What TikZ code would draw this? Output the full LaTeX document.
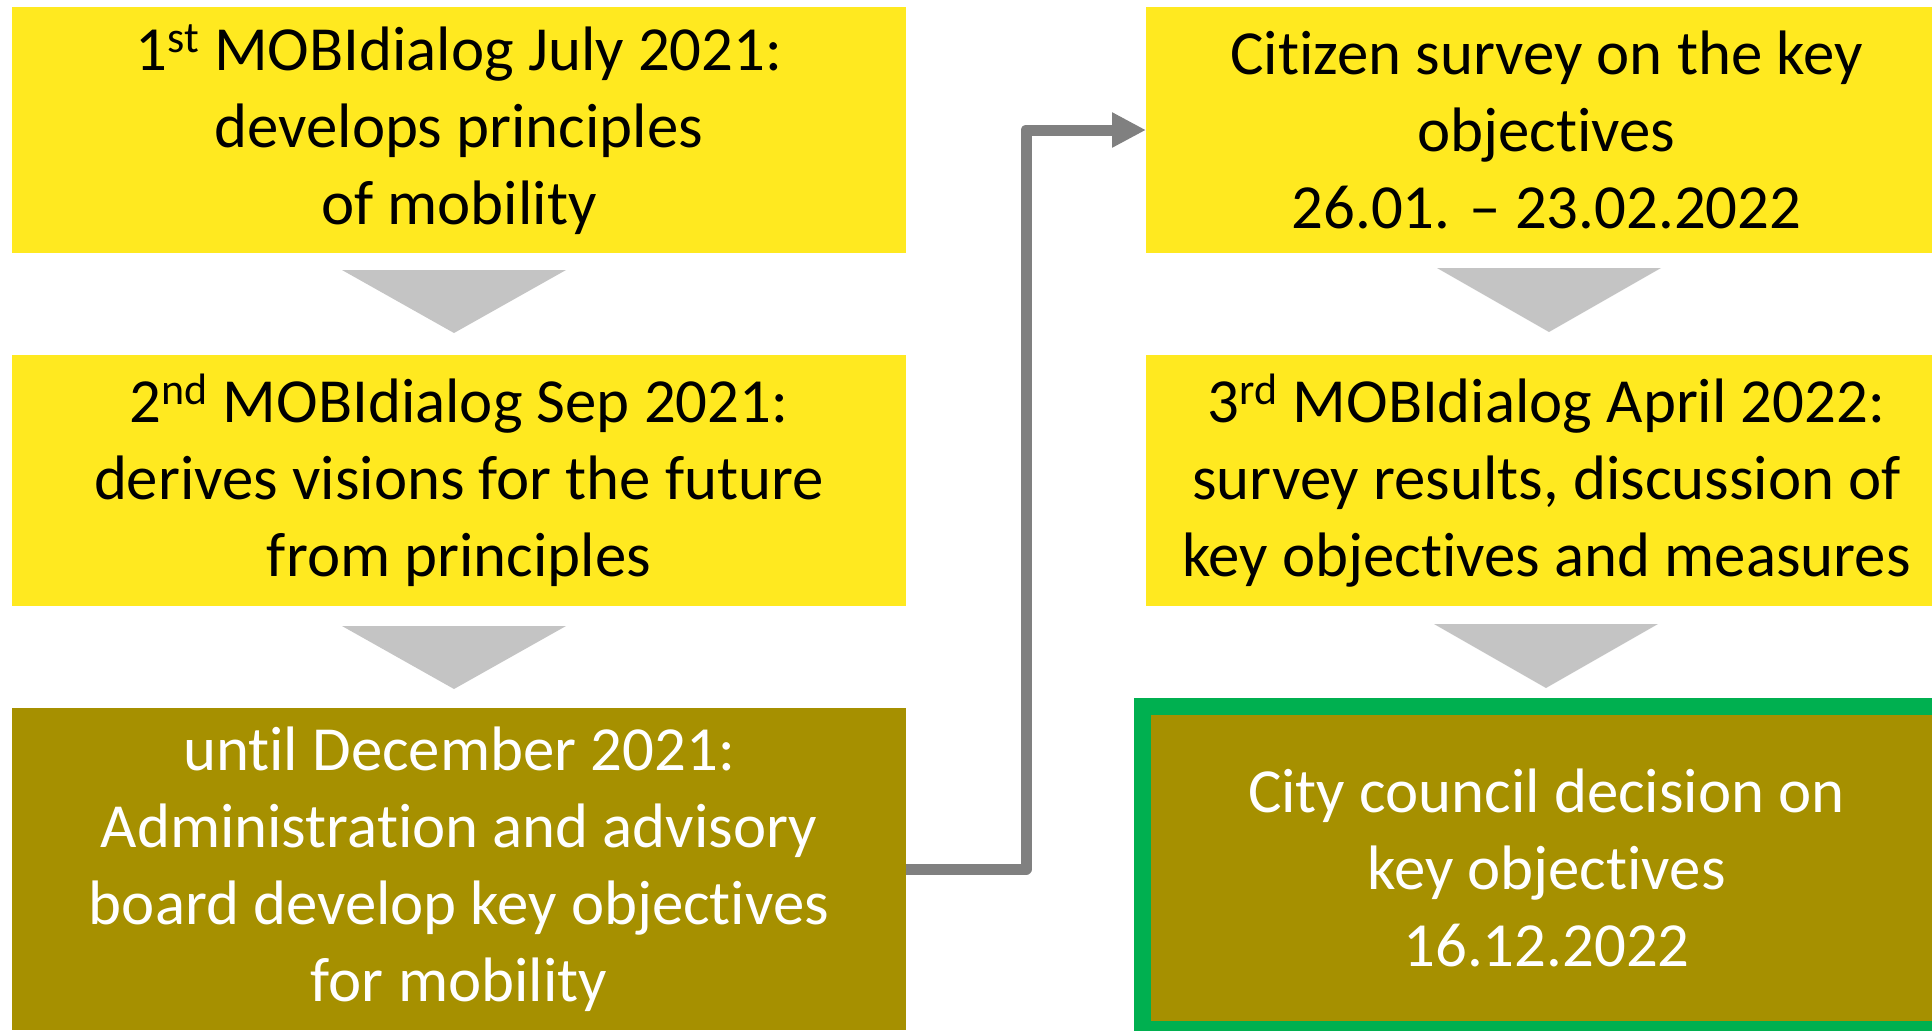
\documentclass[tikz,border=0pt]{standalone}
\usepackage{fontspec}
\setmainfont{Carlito}[Ligatures={NoCommon,TeX}]
\usetikzlibrary{arrows.meta}
\definecolor{boxyellow}{RGB}{255,233,32}
\definecolor{boxolive}{RGB}{166,144,0}
\definecolor{boxgreen}{RGB}{0,176,80}
\definecolor{trigray}{RGB}{196,196,196}
\definecolor{conngray}{RGB}{128,128,128}
\tikzset{
  box/.style={rectangle, inner sep=0pt, outer sep=0pt, align=center,
    font=\fontsize{31.4}{38.5}\selectfont},
  ybox/.style={box, fill=boxyellow, text=black},
  obox/.style={box, fill=boxolive, text=white},
  tri/.style={fill=trigray},
  conn/.style={draw=conngray, line width=5.5pt, line join=round,
    -{Triangle[length=17pt,width=16.5pt]}},
}
\begin{document}
\begin{tikzpicture}[x=0.5pt,y=-0.5pt]
\clip (0,0) rectangle (1932,1030);
\fill[white] (0,0) rectangle (1932,1030);
% left column
\node[ybox, minimum width=447pt, minimum height=123pt] (a1) at (459,130)
  {1\textsuperscript{st} MOBIdialog July 2021:\\develops principles\\of mobility};
\node[ybox, minimum width=447pt, minimum height=125.5pt] (a2) at (459,480.5)
  {2\textsuperscript{nd} MOBIdialog Sep 2021:\\derives visions for the future\\from principles};
\node[obox, minimum width=447pt, minimum height=161pt] (a3) at (459,869)
  {until December 2021:\\Administration and advisory\\board develop key objectives\\for mobility};
% right column
\node[ybox, minimum width=400.5pt, minimum height=123pt] (c1) at (1546.5,130)
  {Citizen survey on the key\\objectives\\26.01. – 23.02.2022};
\node[ybox, minimum width=400.5pt, minimum height=125.5pt] (c2) at (1546.5,480.5)
  {3\textsuperscript{rd} MOBIdialog April 2022:\\survey results, discussion of\\key objectives and measures};
\node[obox, draw=boxgreen, line width=8.5pt, minimum width=404pt, minimum height=161.5pt] (c3) at (1546.5,868)
  {City council decision on\\key objectives\\16.12.2022};
% flow triangles
\fill[tri] (342,270) -- (566,270) -- (454,333) -- cycle;
\fill[tri] (342,626) -- (566,626) -- (454,689) -- cycle;
\fill[tri] (1437,268) -- (1661,268) -- (1549,332) -- cycle;
\fill[tri] (1434,624) -- (1658,624) -- (1546,688) -- cycle;
% connector
\draw[conn] (a3.east) -- ++(120,0) |- (c1.west);
\end{tikzpicture}
\end{document}
